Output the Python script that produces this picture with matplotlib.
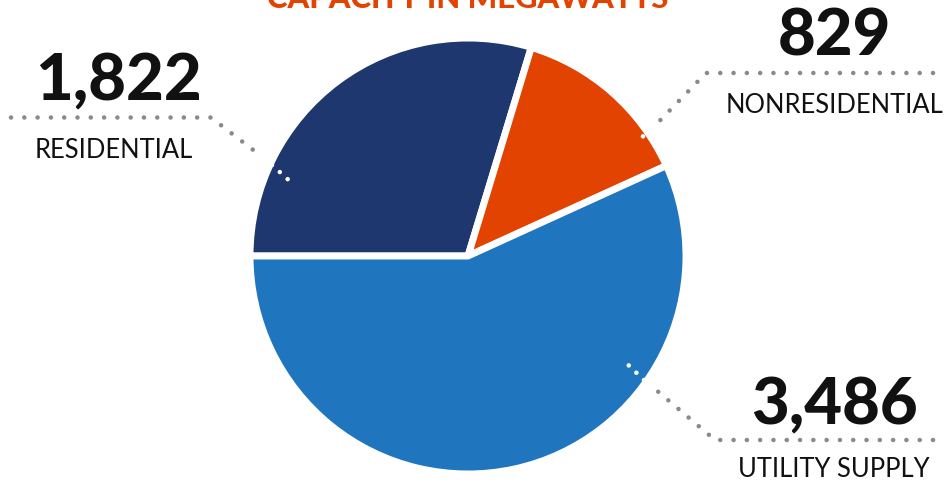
import matplotlib
matplotlib.use("Agg")
import matplotlib.pyplot as plt

categories = ["RESIDENTIAL", "NONRESIDENTIAL", "UTILITY SUPPLY"]
values = [1822, 829, 3486]
value_labels = ["1,822", "829", "3,486"]
colors = ["#1F376F", "#E24300", "#1F76BF"]
title = "CAPACITY IN MEGAWATTS"

W, H = 948, 483
fig = plt.figure(figsize=(W / 100, H / 100), dpi=100)
ax = fig.add_axes([0, 0, 1, 1])

def py(y):  # pixel y (top-down) -> data y
    return H - y

cx, cy, r = 468, py(256), 218
wedges, _ = ax.pie(values, colors=colors, startangle=180, counterclock=False,
                   center=(cx, cy), radius=r, frame=True,
                   wedgeprops=dict(edgecolor="white", linewidth=5,
                                   joinstyle="miter"))
ax.set_xlim(0, W)
ax.set_ylim(0, H)
ax.set_aspect("equal")
ax.axis("off")

ax.text(cx, py(8), title, ha="center", va="baseline", color="#E24300",
        fontsize=22.3, fontweight="black", family=["Lato", "DejaVu Sans"])

num_style = dict(fontsize=47, fontweight="black", color="#111111",
                 family=["Lato", "DejaVu Sans"], va="baseline", ha="center")
lab_style = dict(fontsize=18.4, color="#111111", family=["Lato", "DejaVu Sans"],
                 va="baseline", ha="center")

# label positions (pixel coords: center x, baseline y)
num_pos = [(118, 100), (835, 55), (834, 424)]
lab_pos = [(113.5, 158), (835, 113), (834, 477)]
for txt, (x, y) in zip(value_labels, num_pos):
    ax.text(x, py(y), txt, **num_style)
for txt, (x, y) in zip(categories, lab_pos):
    ax.text(x, py(y), txt, **lab_style)

# leader lines (pixel coords): gray outside the pie, white inside
leaders_gray = [
    [(11, 117.5), (211, 117.5), (263, 157.5)],
    [(933, 73), (706, 73), (659, 121.5)],
    [(933, 440), (715, 440), (655, 389)],
]
leaders_white = [
    [(272, 165), (293, 184)],
    [(650, 128.5), (641, 138.5)],
    [(644, 380), (622, 359)],
]
for pts in leaders_gray:
    xs = [p[0] for p in pts]
    ys = [py(p[1]) for p in pts]
    ax.plot(xs, ys, color="#8A8A8C", lw=3.3, linestyle=(0, (0.001, 2.9)),
            dash_capstyle="round")
for pts in leaders_white:
    xs = [p[0] for p in pts]
    ys = [py(p[1]) for p in pts]
    ax.plot(xs, ys, color="white", lw=3.3, linestyle=(0, (0.001, 2.3)),
            dash_capstyle="round")

fig.savefig("out.png", dpi=100)
